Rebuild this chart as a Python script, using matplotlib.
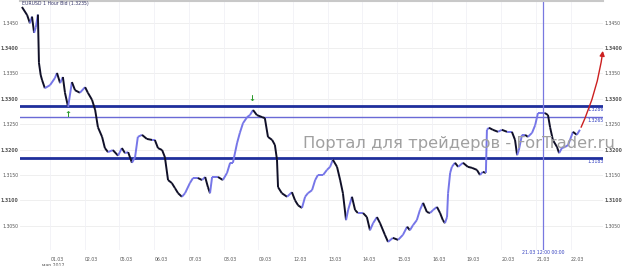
import numpy as np
import matplotlib
matplotlib.use('Agg')
import matplotlib.pyplot as plt
from matplotlib.collections import LineCollection

# trading days counted from 01.03 (label positions 0..15), EURUSD H1 bid
days = [-1.01, -0.86, -0.78, -0.72, -0.66, -0.61, -0.55, -0.52, -0.47, -0.43,
        -0.35, -0.20, -0.06, 0.00, 0.09, 0.17, 0.23, 0.32, 0.43, 0.52,
        0.66, 0.81, 0.89, 1.01, 1.10, 1.18, 1.30, 1.38, 1.47, 1.61,
        1.76, 1.87, 1.96, 2.05, 2.16, 2.25, 2.33, 2.45, 2.59, 2.74,
        2.82, 2.91, 3.03, 3.11, 3.20, 3.31, 3.40, 3.49, 3.60, 3.69,
        3.83, 3.92, 4.06, 4.18, 4.27, 4.35, 4.41, 4.47, 4.64, 4.78,
        4.90, 4.99, 5.07, 5.19, 5.27, 5.36, 5.48, 5.56, 5.65, 5.76,
        5.91, 5.99, 6.08, 6.20, 6.28, 6.34, 6.37, 6.48, 6.63, 6.77,
        6.86, 6.95, 7.06, 7.15, 7.23, 7.35, 7.44, 7.52, 7.67, 7.78,
        7.87, 7.95, 8.07, 8.16, 8.24, 8.33, 8.39, 8.50, 8.59, 8.67,
        8.82, 8.93, 9.02, 9.11, 9.22, 9.31, 9.45, 9.54, 9.68, 9.83,
        9.97, 10.09, 10.17, 10.26, 10.37, 10.46, 10.55, 10.66, 10.75, 10.84,
        10.95, 11.04, 11.12, 11.18, 11.24, 11.27, 11.33, 11.38, 11.47, 11.56,
        11.70, 11.84, 11.96, 12.10, 12.19, 12.27, 12.36, 12.39, 12.45, 12.56,
        12.71, 12.82, 12.97, 13.11, 13.20, 13.26, 13.31, 13.40, 13.49, 13.57,
        13.69, 13.78, 13.86, 13.98, 14.06, 14.15, 14.21, 14.29, 14.41, 14.47,
        14.55, 14.64, 14.73, 14.87, 14.98, 15.07]
prices = [1.3481, 1.3465, 1.3449, 1.3462, 1.3430, 1.3441, 1.3466, 1.3371, 1.3347, 1.3337,
          1.3321, 1.3327, 1.3341, 1.3351, 1.3331, 1.3343, 1.3312, 1.3284, 1.3333, 1.3317,
          1.3312, 1.3323, 1.3312, 1.3298, 1.3278, 1.3244, 1.3225, 1.3203, 1.3195, 1.3199,
          1.3188, 1.3203, 1.3193, 1.3195, 1.3174, 1.3185, 1.3225, 1.3229, 1.3221, 1.3219,
          1.3219, 1.3203, 1.3199, 1.3185, 1.3140, 1.3134, 1.3124, 1.3114, 1.3107, 1.3114,
          1.3134, 1.3144, 1.3144, 1.3140, 1.3146, 1.3126, 1.3114, 1.3146, 1.3146, 1.3140,
          1.3154, 1.3174, 1.3174, 1.3213, 1.3233, 1.3252, 1.3264, 1.3268, 1.3278, 1.3268,
          1.3264, 1.3262, 1.3225, 1.3219, 1.3209, 1.3180, 1.3126, 1.3114, 1.3107, 1.3116,
          1.3100, 1.3090, 1.3085, 1.3107, 1.3114, 1.3120, 1.3140, 1.3150, 1.3150, 1.3160,
          1.3166, 1.3180, 1.3166, 1.3140, 1.3114, 1.3061, 1.3081, 1.3107, 1.3081, 1.3075,
          1.3075, 1.3067, 1.3041, 1.3055, 1.3067, 1.3055, 1.3032, 1.3018, 1.3026, 1.3022,
          1.3032, 1.3048, 1.3041, 1.3051, 1.3061, 1.3081, 1.3095, 1.3077, 1.3075, 1.3081,
          1.3087, 1.3075, 1.3061, 1.3055, 1.3067, 1.3114, 1.3154, 1.3166, 1.3174, 1.3166,
          1.3174, 1.3166, 1.3164, 1.3160, 1.3150, 1.3156, 1.3154, 1.3239, 1.3243, 1.3239,
          1.3235, 1.3239, 1.3235, 1.3235, 1.3219, 1.3189, 1.3199, 1.3229, 1.3229, 1.3225,
          1.3233, 1.3248, 1.3272, 1.3272, 1.3272, 1.3268, 1.3244, 1.3219, 1.3205, 1.3193,
          1.3203, 1.3205, 1.3209, 1.3235, 1.3229, 1.3239]

date_labels = ['01.03', '02.03', '05.03', '06.03', '07.03', '08.03', '09.03', '12.03',
               '13.03', '14.03', '15.03', '16.03', '19.03', '20.03', '21.03', '22.03']
price_ticks = [1.3050, 1.3100, 1.3150, 1.3200, 1.3250, 1.3300, 1.3350, 1.3400, 1.3450]

levels = [1.3286, 1.3265, 1.3183]
level_widths = [2.0, 1.0, 2.0]
level_colors = ['#1f2f9c', '#6a6ad6', '#1f2f9c']

arrow_up = (0.32, 1.3270)     # buy signal under the support touch
arrow_down = (5.62, 1.3301)   # sell signal above the 08.03 peak
crosshair_day = 14.0
target_price = 1.3400
target_day = 15.74

fig = plt.figure(figsize=(6.23, 2.66), dpi=100)
ax = fig.add_axes([20 / 623, 16 / 266, 583 / 623, 249 / 266])
ax.set_xlim(-1.066, 15.735)
ax.set_ylim(1.30021, 1.34928)

# grid
for p in price_ticks:
    ax.axhline(p, color='#ececec', lw=0.6, zorder=0)
for i in range(len(date_labels)):
    ax.axvline(i - 0.2, color='#f1f1f6', lw=0.6, zorder=0)

# price path, up moves blue / down moves black like the candles
x = np.array(days)
y = np.array(prices)
segs = np.stack([np.column_stack([x[:-1], y[:-1]]), np.column_stack([x[1:], y[1:]])], axis=1)
cols = ['#7676e8' if y[i + 1] >= y[i] else '#101028' for i in range(len(y) - 1)]
ax.add_collection(LineCollection(segs, colors=cols, linewidths=1.4, zorder=3))

# support / resistance levels
for lv, lw, c in zip(levels, level_widths, level_colors):
    ax.axhline(lv, color=c, lw=lw, zorder=2)
    ax.text(15.30, lv - 0.0002, f'{lv:.4f}', color='#3340c0', fontsize=3.3,
            ha='left', va='top', zorder=5)

# crosshair
ax.axvline(crosshair_day, color='#7878e0', lw=0.9, zorder=2)
ax.text(crosshair_day, 1.30021 - 0.0005, '21.03 12:00 00:00', color='#3340c0',
        fontsize=3.3, ha='center', va='center', clip_on=False)

# signals
ax.text(*arrow_up, '↑', color='#2a9a2a', fontsize=6, fontweight='bold',
        ha='center', va='center', zorder=6)
ax.text(*arrow_down, '↓', color='#2a9a2a', fontsize=6, fontweight='bold',
        ha='center', va='center', zorder=6)

# forecast arrow
ax.annotate('', xy=(target_day, target_price), xytext=(days[-1], prices[-1]),
            arrowprops=dict(arrowstyle='-|>', color='#cc2020', lw=1.0,
                            mutation_scale=7, connectionstyle='arc3,rad=0.08'),
            zorder=6, annotation_clip=False)

# watermark
ax.text(7.1, 1.3211, 'Портал для трейдеров - ForTrader.ru', color='#a0a0a0',
        fontsize=11.8, ha='left', va='center', zorder=7, clip_on=False)

ax.text(-1.0, 1.3488, 'EURUSD 1 Hour Bid (1.3235)', color='#333366', fontsize=3.3,
        ha='left', va='center')

# axes
ax.set_xticks(range(len(date_labels)))
ax.set_xticklabels(date_labels)
ax.set_yticks(price_ticks)
ax.set_yticklabels([f'{p:.4f}' for p in price_ticks])
ax.tick_params(axis='both', length=0, labelsize=3.3, colors='#555555')
ax.tick_params(axis='x', pad=5)
ax.tick_params(axis='y', pad=1)
for lab, p in zip(ax.get_yticklabels(), price_ticks):
    if round(p * 10000) % 100 == 0:
        lab.set_fontweight('bold')
ax.text(-0.1, 1.30021 - 0.0030, 'мар 2012', color='#555555', fontsize=3.3,
        ha='center', va='center', clip_on=False)

ax2 = ax.twinx()
ax2.set_ylim(ax.get_ylim())
ax2.set_yticks(price_ticks)
ax2.set_yticklabels([f'{p:.4f}' for p in price_ticks])
ax2.tick_params(axis='y', length=0, labelsize=3.3, colors='#555555', pad=1)
for lab, p in zip(ax2.get_yticklabels(), price_ticks):
    if round(p * 10000) % 100 == 0:
        lab.set_fontweight('bold')

for a in (ax, ax2):
    for s in a.spines.values():
        s.set_visible(False)
ax.spines['top'].set_visible(True)
ax.spines['top'].set_color('#c8c8c8')
ax.spines['top'].set_linewidth(1.5)

fig.savefig('out.png', dpi=100)
